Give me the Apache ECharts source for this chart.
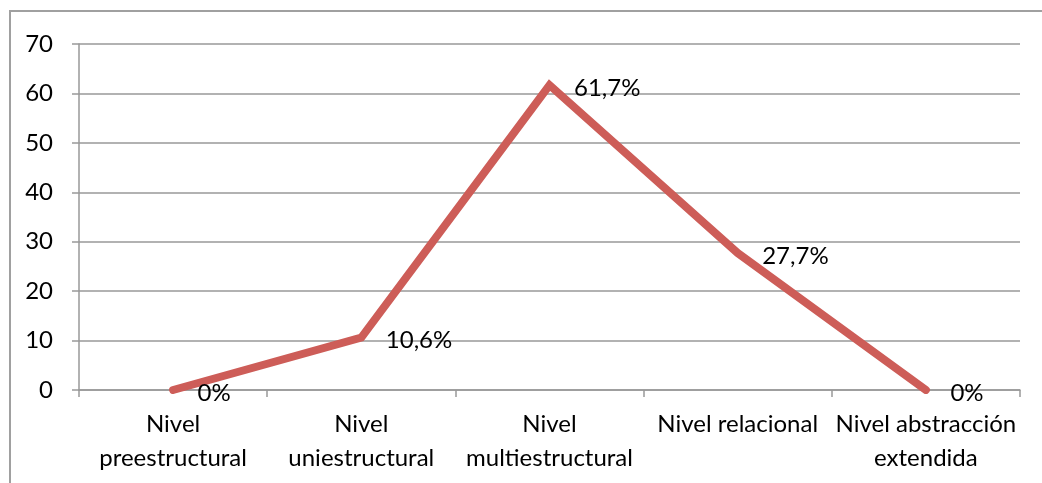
<!DOCTYPE html>
<html><head><meta charset="utf-8">
<script src="https://cdn.jsdelivr.net/npm/echarts@6/dist/echarts.min.js"></script>
<style>html,body{margin:0;padding:0;background:#fff}#c{width:1042px;height:483px;position:relative}
#b{position:absolute;left:9px;top:10px;width:1040px;height:480px;border-left:2px solid #a0a0a0;border-top:2px solid #a0a0a0;box-sizing:border-box;pointer-events:none}</style>
</head><body><div id="c"></div><div id="b" style="position:absolute"></div>
<script>
const categories = ["Nivel\npreestructural","Nivel\nuniestructural","Nivel\nmultiestructural","Nivel relacional","Nivel abstracción\nextendida"];
const values = [0, 10.6, 61.7, 27.7, 0];
const valueLabels = ["0%","10,6%","61,7%","27,7%","0%"];
const yTicks = [0,10,20,30,40,50,60,70];
const font = "Lato, 'Open Sans', sans-serif";
const chart = echarts.init(document.getElementById('c'), null, {renderer:'canvas'});
chart.setOption({
  animation:false,
  grid:{left:79,right:22,top:44,bottom:93},
  xAxis:{type:'category',data:categories,boundaryGap:true,
    axisLine:{lineStyle:{color:'#999',width:1.5}},
    axisTick:{show:true,length:7,lineStyle:{color:'#999',width:1.5}},
    axisLabel:{color:'#000',fontSize:24,fontFamily:font,margin:17,lineHeight:34,interval:0}},
  yAxis:{type:'value',min:yTicks[0],max:yTicks[yTicks.length-1],interval:10,
    axisLine:{show:true,lineStyle:{color:'#999',width:1.5}},
    axisTick:{show:true,length:7,lineStyle:{color:'#999',width:1.5}},
    splitLine:{lineStyle:{color:'#999',width:1.5}},
    axisLabel:{color:'#000',fontSize:24,fontFamily:font,margin:26}},
  series:[{type:'line',data:values.map((v,i)=>({value:v,label:{formatter:valueLabels[i]}})),
    symbol:'circle',symbolSize:1,showSymbol:true,itemStyle:{color:'#CD5D58'},
    lineStyle:{color:'#CD5D58',width:8,cap:'round',join:'miter'},
    label:{show:true,position:'right',distance:24,offset:[0,3],color:'#000',fontSize:24,fontFamily:font}}]
});
</script></body></html>
